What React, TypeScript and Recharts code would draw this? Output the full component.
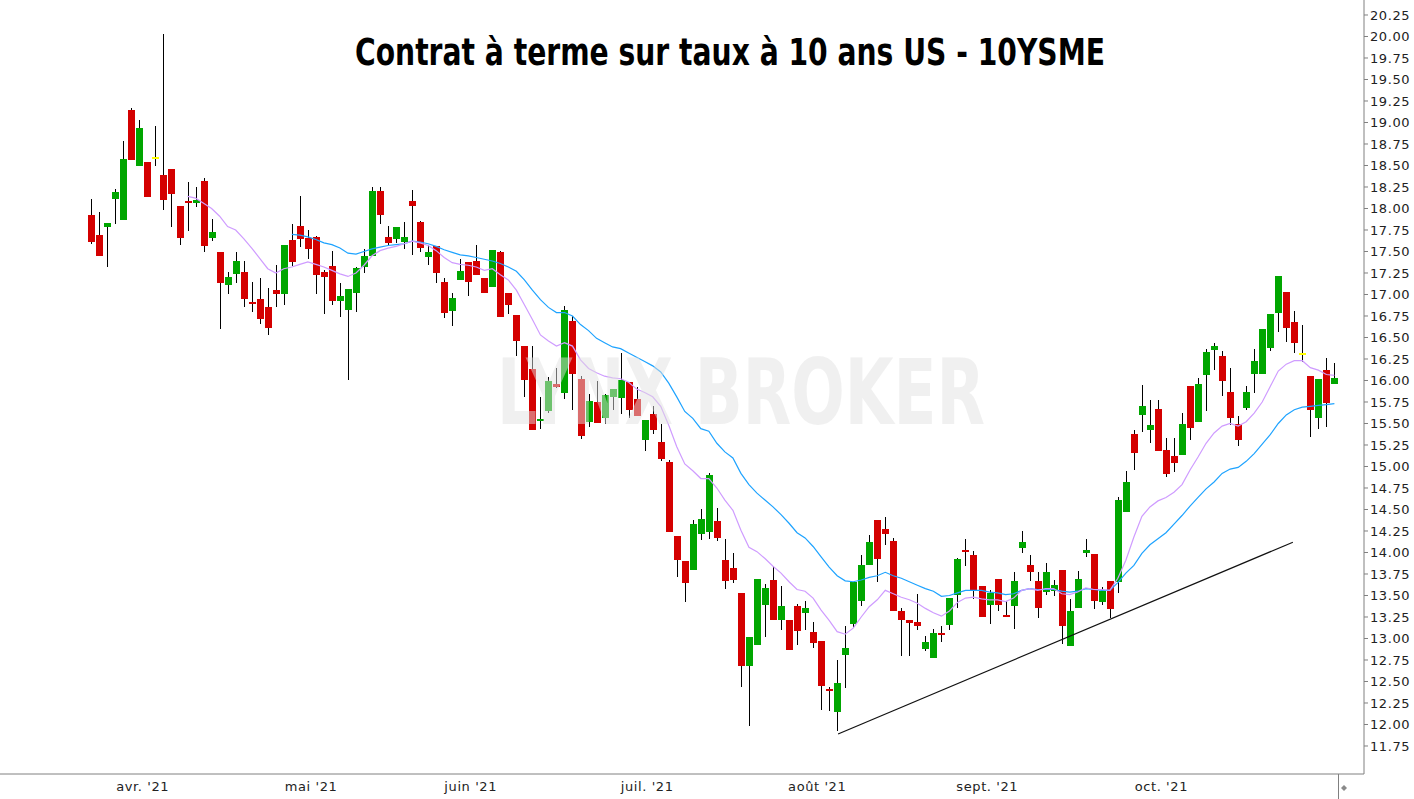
import { ComposedChart, Bar, Line, XAxis, YAxis, ReferenceLine } from 'recharts'

const W = 1414
const H = 799

const GREEN = '#00a600'
const RED = '#d40000'
const DOJI = '#ffff00'

// daily sessions, late March to end of October 2021
const opens = [
  17.92, 17.69, 17.78, 18.11, 17.87, 19.15, 18.49, 18.54, 18.59, 18.39,
  18.46, 18.03, 18.09, 18.06, 18.32, 17.66, 17.49, 17.11, 17.24, 17.26,
  16.91, 16.95, 16.86, 17.05, 17.0, 17.63, 17.8, 17.66, 17.67, 17.26,
  17.33, 16.92, 16.82, 17.02, 17.32, 17.45, 18.2, 17.67, 17.65, 17.61,
  18.09, 17.84, 17.44, 17.56, 17.14, 16.81, 17.17, 17.38, 17.39, 17.19,
  17.09, 17.49, 17.02, 16.76, 16.4, 16.13, 15.53, 15.65, 15.96, 15.85,
  16.69, 16.02, 15.52, 15.75, 15.56, 15.81, 15.8, 15.98, 15.78, 15.31,
  15.61, 15.29, 15.05, 14.19, 13.9, 13.8, 14.22, 14.24, 14.37, 13.91,
  13.82, 13.53, 12.68, 12.92, 13.39, 13.68, 13.22, 13.22, 13.38, 13.3,
  13.08, 12.97, 12.41, 12.15, 12.81, 13.17, 13.44, 13.85, 14.38, 14.27,
  14.13, 13.32, 13.21, 13.19, 12.88, 12.77, 13.06, 13.16, 13.51, 14.03,
  13.97, 13.61, 13.39, 13.69, 13.27, 13.38, 14.05, 13.85, 13.67, 13.54,
  13.55, 13.8, 12.91, 13.36, 13.99, 13.98, 13.43, 13.67, 13.66, 14.47,
  15.38, 15.6, 15.42, 15.67, 15.19, 15.12, 15.13, 15.94, 15.52, 16.06,
  16.36, 16.29, 15.87, 15.49, 15.68, 16.07, 16.08, 16.38, 16.78, 17.03,
  16.68, 16.31, 16.05, 15.56, 16.12, 15.96,
]

const highs = [
  18.11, 17.96, 17.83, 18.23, 18.79, 19.17, 19.03, 18.54, 18.96, 20.03,
  18.46, 18.03, 18.31, 18.25, 18.36, 17.88, 17.49, 17.26, 17.49, 17.39,
  17.15, 17.19, 17.08, 17.34, 17.58, 17.82, 18.15, 17.75, 17.68, 17.29,
  17.51, 17.13, 17.06, 17.32, 17.53, 18.25, 18.25, 17.8, 17.78, 17.84,
  18.21, 17.85, 17.58, 17.56, 17.19, 17.02, 17.41, 17.38, 17.58, 17.19,
  17.52, 17.51, 17.02, 16.76, 16.4, 16.4, 15.81, 16.04, 16.15, 16.87,
  16.75, 16.05, 15.84, 15.99, 15.84, 15.9, 16.32, 15.98, 15.92, 15.54,
  15.7, 15.49, 15.07, 14.19, 13.9, 14.38, 14.51, 14.92, 14.52, 14.16,
  13.99, 13.53, 13.02, 13.69, 13.63, 13.84, 13.61, 13.22, 13.4, 13.44,
  13.19, 12.97, 12.44, 12.75, 13.14, 13.66, 13.97, 14.2, 14.38, 14.41,
  14.17, 13.36, 13.21, 13.52, 13.03, 13.11, 13.15, 13.47, 13.94, 14.16,
  14.02, 13.61, 13.56, 13.69, 13.44, 13.77, 14.25, 13.97, 13.77, 13.88,
  13.68, 13.8, 13.46, 13.78, 14.16, 13.98, 13.6, 13.67, 14.65, 14.95,
  15.42, 15.95, 15.77, 15.77, 15.33, 15.33, 15.62, 15.94, 16.03, 16.37,
  16.44, 16.34, 16.15, 15.59, 15.94, 16.37, 16.6, 16.77, 17.22, 17.03,
  16.81, 16.65, 16.05, 16.02, 16.26, 16.2,
]

const lows = [
  17.59, 17.45, 17.32, 17.82, 17.87, 18.56, 18.49, 18.13, 18.5, 17.98,
  17.79, 17.58, 17.74, 18.02, 17.5, 17.63, 16.59, 17.0, 17.13, 16.85,
  16.8, 16.66, 16.53, 16.85, 16.88, 17.33, 17.56, 17.41, 17.0, 16.78,
  16.88, 16.74, 16.0, 16.8, 17.25, 17.45, 17.82, 17.58, 17.59, 17.53,
  17.45, 17.49, 17.35, 17.13, 16.72, 16.64, 17.17, 16.98, 17.23, 17.02,
  17.09, 16.74, 16.78, 16.28, 15.81, 15.42, 15.44, 15.62, 15.92, 15.79,
  15.66, 15.32, 15.46, 15.5, 15.49, 15.66, 15.61, 15.56, 15.59, 15.18,
  15.38, 15.06, 14.24, 13.71, 13.42, 13.8, 14.15, 14.15, 14.14, 13.58,
  13.64, 12.44, 11.98, 12.92, 13.01, 13.22, 13.1, 12.87, 12.92, 13.1,
  12.89, 12.17, 12.16, 11.93, 12.42, 13.13, 13.38, 13.85, 13.66, 14.09,
  13.32, 12.8, 12.79, 13.1, 12.85, 12.77, 12.96, 13.1, 13.36, 13.85,
  13.46, 13.25, 13.17, 13.32, 13.25, 13.11, 13.99, 13.67, 13.23, 13.51,
  13.49, 12.94, 12.91, 13.36, 13.95, 13.34, 13.39, 13.24, 13.53, 14.47,
  14.96, 15.4, 15.27, 15.18, 14.88, 14.93, 15.13, 15.31, 15.52, 15.65,
  16.13, 15.82, 15.49, 15.24, 15.66, 15.86, 16.08, 16.34, 16.57, 16.45,
  16.32, 16.22, 15.34, 15.44, 15.46, 15.96,
]

const closes = [
  17.61, 17.45, 17.83, 18.19, 18.58, 18.56, 18.94, 18.13, 18.59, 18.1,
  18.17, 17.66, 18.06, 18.1, 17.56, 17.73, 17.13, 17.2, 17.39, 16.95,
  16.89, 16.71, 16.61, 17.0, 17.58, 17.38, 17.64, 17.53, 17.23, 17.2,
  16.92, 16.98, 17.06, 17.31, 17.45, 18.2, 17.92, 17.6, 17.78, 17.67,
  18.03, 17.54, 17.49, 17.25, 16.78, 16.96, 17.27, 17.15, 17.23, 17.02,
  17.52, 16.74, 16.88, 16.46, 16.01, 15.42, 15.55, 15.99, 15.92, 16.82,
  16.07, 15.35, 15.76, 15.5, 15.83, 15.9, 16.01, 15.66, 15.59, 15.54,
  15.43, 15.09, 14.24, 13.91, 13.64, 14.33, 14.39, 14.9, 14.17, 13.67,
  13.68, 12.68, 13.02, 13.69, 13.59, 13.22, 13.38, 12.87, 13.09, 13.36,
  12.95, 12.45, 12.39, 12.48, 12.89, 13.66, 13.85, 14.12, 13.93, 14.22,
  13.32, 13.22, 13.18, 13.14, 12.96, 13.06, 13.04, 13.47, 13.92, 14.0,
  13.56, 13.25, 13.53, 13.39, 13.25, 13.67, 14.12, 13.77, 13.35, 13.77,
  13.62, 13.15, 13.32, 13.69, 14.03, 13.44, 13.55, 13.34, 14.61, 14.82,
  15.16, 15.7, 15.48, 15.18, 14.91, 15.04, 15.49, 15.45, 15.96, 16.33,
  16.4, 15.99, 15.56, 15.31, 15.87, 16.23, 16.6, 16.77, 17.22, 16.61,
  16.44, 16.31, 15.66, 16.02, 15.74, 16.03,
]

// violet moving average (short)
const maFast = [
  null, null, null, null, null, null, null, null, null, null,
  null, null, 18.14, 18.12, 18.06, 18.0, 17.91, 17.79, 17.75, 17.65,
  17.54, 17.42, 17.3, 17.25, 17.3, 17.32, 17.35, 17.38, 17.35, 17.32,
  17.28, 17.24, 17.21, 17.25, 17.34, 17.45, 17.51, 17.54, 17.56, 17.59,
  17.62, 17.6, 17.57, 17.51, 17.43, 17.37, 17.35, 17.34, 17.32, 17.28,
  17.3, 17.23, 17.17, 17.05, 16.88, 16.71, 16.53, 16.46, 16.4, 16.44,
  16.4, 16.24, 16.14, 16.09, 16.05, 16.03, 16.02, 15.98, 15.9, 15.86,
  15.81, 15.7, 15.48, 15.23, 15.03, 14.95, 14.86, 14.86, 14.75, 14.61,
  14.49, 14.26, 14.06, 14.01, 13.93, 13.84, 13.76, 13.66, 13.57, 13.55,
  13.47, 13.33, 13.21, 13.08, 13.05, 13.12, 13.25, 13.37, 13.45, 13.56,
  13.52, 13.48, 13.45, 13.41, 13.35, 13.3, 13.26, 13.32, 13.42, 13.47,
  13.48, 13.46, 13.45, 13.45, 13.43, 13.47, 13.56, 13.58, 13.56, 13.58,
  13.58, 13.52, 13.51, 13.54, 13.59, 13.57, 13.57, 13.56, 13.7, 13.91,
  14.18, 14.42, 14.53, 14.6, 14.64, 14.7, 14.79, 14.96, 15.11, 15.27,
  15.39, 15.47, 15.5, 15.47, 15.52, 15.62, 15.75, 15.93, 16.11, 16.19,
  16.23, 16.23, 16.15, 16.12, 16.07, 16.06,
]

// blue moving average (long)
const maSlow = [
  null, null, null, null, null, null, null, null, null, null,
  null, null, null, null, null, null, null, null, null, null,
  null, null, null, null, null, 17.7, 17.69, 17.67, 17.64, 17.6,
  17.58, 17.54, 17.48, 17.47, 17.5, 17.53, 17.55, 17.57, 17.58, 17.59,
  17.62, 17.61, 17.59, 17.56, 17.52, 17.49, 17.46, 17.45, 17.43, 17.41,
  17.39, 17.36, 17.32, 17.27, 17.17, 17.05, 16.94, 16.85, 16.79, 16.79,
  16.75, 16.65, 16.58, 16.49, 16.44, 16.39, 16.37, 16.32, 16.27, 16.22,
  16.17, 16.1, 15.97, 15.81, 15.64, 15.56, 15.44, 15.41, 15.27, 15.17,
  15.1, 14.92, 14.79, 14.69, 14.61, 14.53, 14.44, 14.34, 14.23, 14.17,
  14.07, 13.95, 13.83, 13.73, 13.67, 13.66, 13.68, 13.71, 13.73, 13.77,
  13.73, 13.7, 13.66, 13.62, 13.58, 13.55, 13.49, 13.5, 13.53, 13.56,
  13.56, 13.56, 13.54, 13.53, 13.51, 13.52, 13.56, 13.58, 13.57, 13.57,
  13.57, 13.55, 13.54, 13.55, 13.58, 13.57, 13.56, 13.56, 13.65, 13.76,
  13.85, 13.99, 14.09, 14.16, 14.23, 14.33, 14.43, 14.54, 14.64, 14.74,
  14.82, 14.92, 14.97, 14.99, 15.06, 15.15, 15.26, 15.37, 15.5, 15.6,
  15.66, 15.69, 15.7, 15.71, 15.72, 15.73,
]

// month starts, in session units
const monthTicks = [6.4, 27.4, 47.3, 69.3, 90.5, 111.7, 133.4]
const monthLabels = ["avr. '21", "mai '21", "juin '21", "juil. '21", "août '21", "sept. '21", "oct. '21"]

const priceTicks = [
  11.75, 12.0, 12.25, 12.5, 12.75, 13.0, 13.25, 13.5, 13.75, 14.0, 14.25, 14.5,
  14.75, 15.0, 15.25, 15.5, 15.75, 16.0, 16.25, 16.5, 16.75, 17.0, 17.25, 17.5,
  17.75, 18.0, 18.25, 18.5, 18.75, 19.0, 19.25, 19.5, 19.75, 20.0, 20.25,
]

// support line drawn under the August low
const trendLine = [
  { x: 93.1, y: 11.89 },
  { x: 149.8, y: 14.12 },
]

const candles = opens.map((open, i) => ({
  i,
  open,
  high: highs[i],
  low: lows[i],
  close: closes[i],
  range: [lows[i], highs[i]],
  maFast: maFast[i],
  maSlow: maSlow[i],
}))

function Candle(props: any) {
  const { x, y, width, height, payload } = props
  if (x == null || y == null || !payload) return null
  const { open, close, high, low } = payload
  const top = Math.min(y, y + height)
  const span = Math.abs(height)
  const toY = (v: number) => (high === low ? top : top + ((high - v) / (high - low)) * span)
  const wickX = Math.floor(x + width / 2)
  const color = close > open ? GREEN : close < open ? RED : DOJI
  const b0 = Math.round(toY(Math.max(open, close)))
  const b1 = Math.round(toY(Math.min(open, close)))
  const bh = Math.max(b1 - b0, color === DOJI ? 2 : 1)
  return (
    <g>
      <rect x={wickX} y={Math.round(top)} width={1} height={Math.max(Math.round(span), 1)} fill="#000" />
      <rect x={wickX - 3} y={color === DOJI ? b0 - 1 : b0} width={7} height={bh} fill={color} />
    </g>
  )
}

const axisFont = { fontSize: 13, fontFamily: 'DejaVu Sans, Verdana, sans-serif', fill: '#222', letterSpacing: 0.6 }

export default function App() {
  return (
    <div style={{ position: 'absolute', left: 0, top: 0, width: W, height: H, background: '#fff' }}>
      <ComposedChart width={W} height={H} data={candles} margin={{ top: 0, right: 0, bottom: 0, left: 0 }}>
        <XAxis
          xAxisId="cat"
          dataKey="i"
          type="category"
          orientation="top"
          height={0}
          hide
          padding={{ left: 87.3, right: 25.6 }}
        />
        <XAxis
          xAxisId="num"
          dataKey="i"
          type="number"
          orientation="bottom"
          domain={[-11.384, 158.666]}
          allowDataOverflow
          ticks={monthTicks}
          interval={0}
          tickFormatter={(v: number) => monthLabels[monthTicks.indexOf(v)] ?? ''}
          height={25}
          axisLine={{ stroke: '#808080' }}
          tickLine={false}
          tick={axisFont}
        />
        <YAxis
          orientation="right"
          width={50}
          domain={[11.4244, 20.4244]}
          allowDataOverflow
          ticks={priceTicks}
          interval={0}
          tickFormatter={(v: number) => v.toFixed(2)}
          tickSize={4}
          tickMargin={2}
          axisLine={{ stroke: '#808080' }}
          tickLine={{ stroke: '#808080' }}
          tick={axisFont}
        />
        <Bar xAxisId="cat" dataKey="range" barSize={7} shape={<Candle />} isAnimationActive={false} />
        <Line
          xAxisId="cat"
          dataKey="maSlow"
          stroke="#1ea3ff"
          strokeWidth={1.2}
          dot={false}
          activeDot={false}
          isAnimationActive={false}
        />
        <Line
          xAxisId="cat"
          dataKey="maFast"
          stroke="#cf9cff"
          strokeWidth={1.2}
          dot={false}
          activeDot={false}
          isAnimationActive={false}
        />
        <ReferenceLine xAxisId="num" segment={trendLine} stroke="#111" strokeWidth={1.2} />
      </ComposedChart>
      <svg width={W} height={H} style={{ position: 'absolute', left: 0, top: 0, pointerEvents: 'none' }}>
        <text
          x={497}
          y={424}
          fontSize={90}
          fontWeight={700}
          fontFamily="'Liberation Sans Narrow', 'DejaVu Sans Condensed', 'Liberation Sans', sans-serif"
          textLength={488}
          lengthAdjust="spacingAndGlyphs"
          fill="#e0e0e0"
          fillOpacity={0.49}
        >
          LYNX BROKER
        </text>
        <text
          x={355}
          y={65}
          fontSize={38}
          fontWeight={700}
          fontFamily="'Liberation Sans Narrow', 'DejaVu Sans Condensed', 'Liberation Sans', sans-serif"
          textLength={750}
          lengthAdjust="spacingAndGlyphs"
          fill="#000"
        >
          Contrat à terme sur taux à 10 ans US - 10YSME
        </text>
        <line x1={1338.5} y1={774} x2={1338.5} y2={799} stroke="#808080" />
        <polygon points="1341,788 1344,785 1347,788 1344,791" fill="#8a8a8a" />
      </svg>
    </div>
  )
}
